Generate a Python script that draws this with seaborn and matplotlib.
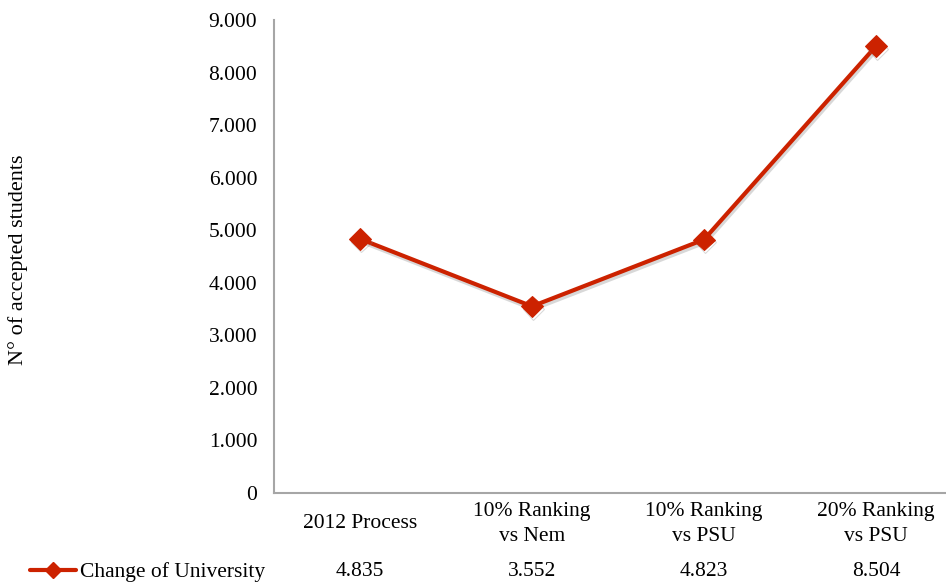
import matplotlib
matplotlib.use("Agg")
import matplotlib.pyplot as plt
import matplotlib.patheffects as pe
from matplotlib.lines import Line2D
from matplotlib.ticker import FuncFormatter, MultipleLocator
from matplotlib.transforms import blended_transform_factory
import seaborn as sns

categories = ["2012 Process", "10% Ranking\nvs Nem", "10% Ranking\nvs PSU", "20% Ranking\nvs PSU"]
series_name = "Change of University"
values = [4835, 3552, 4823, 8504]
y_label = "N° of accepted students"

sns.set_theme(style="white")
plt.rcParams["font.family"] = ["Liberation Serif", "DejaVu Serif"]
plt.rcParams["text.color"] = "black"

FS = 15.5
W, H = 946, 583
fig = plt.figure(figsize=(W / 100, H / 100), dpi=100)
left, right, top, bottom = 274, 962, 20, 493
ax = fig.add_axes([left / W, 1 - bottom / H, (right - left) / W, (bottom - top) / H])

red = "#CC2200"
x_pos = list(range(len(categories)))
sns.lineplot(x=x_pos, y=values, ax=ax, color=red, linewidth=3.0, marker="D",
             markersize=11, markeredgecolor=red, sort=False,
             path_effects=[pe.SimpleLineShadow(offset=(1, -2), shadow_color="gray", alpha=0.3),
                           pe.Normal()])

ax.set_xlim(-0.5, len(categories) - 0.5)
ax.set_ylim(0, 9000)
ax.yaxis.set_major_locator(MultipleLocator(1000))
ax.yaxis.set_major_formatter(FuncFormatter(lambda v, _: f"{int(v):,}".replace(",", ".")))
ax.set_xticks([])
ax.tick_params(axis="y", length=0, pad=12, labelsize=FS, labelcolor="black")
for s in ("top", "right"):
    ax.spines[s].set_visible(False)
for s in ("left", "bottom"):
    ax.spines[s].set_color("#A6A6A6")
    ax.spines[s].set_linewidth(1.5)

fig.text(18 / W, 1 - 260 / H, y_label, rotation=90, ha="center", va="center",
         fontsize=FS + 0.5, color="black")

# data table under the plot
trans = blended_transform_factory(ax.transData, fig.transFigure)
for i, (cat, v) in enumerate(zip(categories, values)):
    ax.text(i, 1 - 524 / H, cat, transform=trans, ha="center", va="center",
            fontsize=FS, linespacing=1.45, clip_on=False, color="black")
    ax.text(i, 1 - 572 / H, f"{v:,}".replace(",", "."), transform=trans, ha="center",
            va="center", fontsize=FS, clip_on=False, color="black")

fig.add_artist(Line2D([30 / W, 76 / W], [1 - 570 / H] * 2, color=red, linewidth=3.0,
                      transform=fig.transFigure))
fig.add_artist(Line2D([53 / W], [1 - 570 / H], color=red, marker="D", markersize=8,
                      transform=fig.transFigure))
fig.text(80 / W, 1 - 572 / H, series_name, ha="left", va="center", fontsize=FS, color="black")

fig.savefig("out.png", dpi=100)
